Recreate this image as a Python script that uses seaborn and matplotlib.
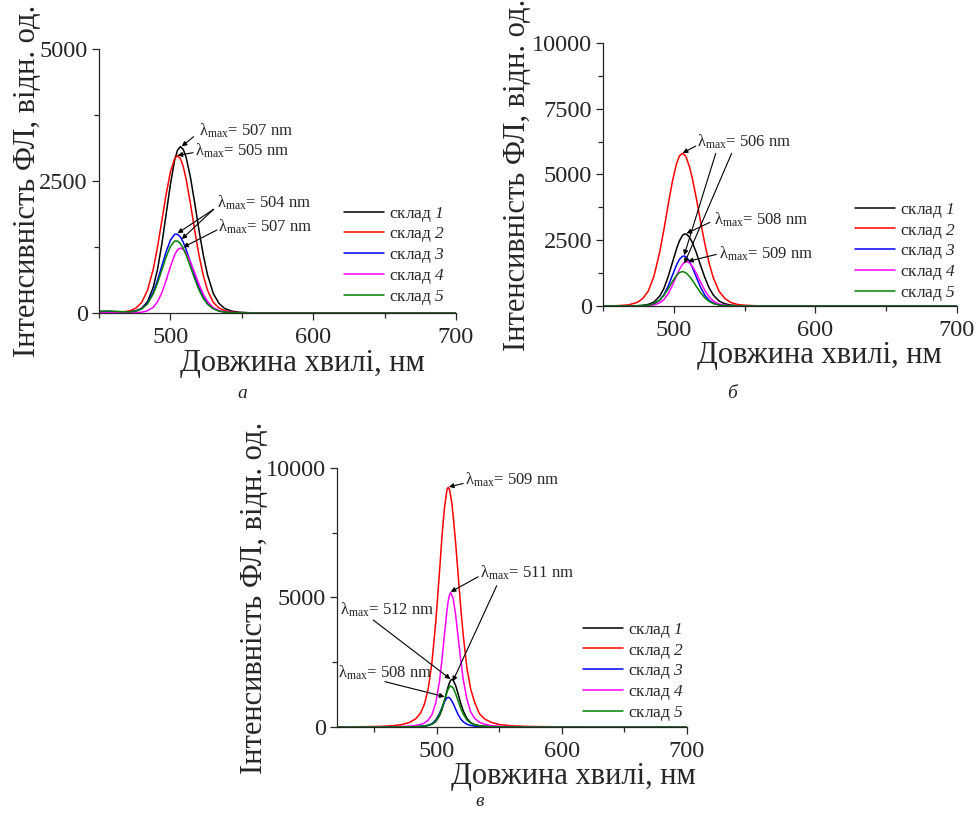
import pandas as pd
import matplotlib
matplotlib.use("Agg")
import matplotlib.pyplot as plt
from matplotlib.ticker import MultipleLocator
import seaborn as sns

# wavelengths (nm) and intensities
wl_a = [450, 458, 466, 472, 476, 480, 484, 488, 491, 494, 497, 500, 503, 505, 507, 509,
        511, 514, 517, 520, 523, 526, 530, 534, 538, 543, 548, 555, 565, 580, 620, 700]
a_1 = [5, 5, 6, 19, 41, 91, 214, 488, 825, 1300, 1865, 2432, 2895, 3084, 3150, 3100,
       2952, 2577, 2092, 1575, 1106, 725, 372, 183, 85, 35, 15, 5, 2, 0, 0, 0]
a_2 = [3, 4, 15, 45, 95, 203, 432, 828, 1249, 1743, 2241, 2667, 2926, 2980, 2926, 2777,
       2539, 2080, 1573, 1100, 715, 432, 203, 95, 45, 18, 7, 2, 0, 0, 0, 0]
a_3 = [25, 27, 20, 23, 41, 84, 189, 393, 620, 888, 1158, 1378, 1492, 1492, 1440, 1342,
       1206, 963, 710, 482, 306, 182, 87, 39, 18, 8, 3, 1, 0, 0, 0, 0]
a_4 = [3, 3, 3, 3, 6, 16, 42, 107, 212, 381, 615, 876, 1101, 1197, 1230, 1205,
       1138, 972, 760, 546, 359, 219, 102, 46, 21, 7, 3, 1, 0, 0, 0, 0]
a_5 = [35, 37, 25, 22, 37, 77, 173, 359, 566, 811, 1058, 1259, 1363, 1363, 1315, 1226,
       1101, 879, 648, 440, 279, 166, 79, 36, 16, 7, 3, 1, 0, 0, 0, 0]

wl_b = [450, 460, 468, 474, 478, 482, 486, 490, 493, 496, 499, 502, 504, 506, 507, 508, 509,
        511, 513, 516, 519, 522, 525, 528, 532, 536, 540, 545, 550, 558, 570, 590, 640, 700]
b_1 = [3, 4, 6, 11, 25, 60, 151, 370, 666, 1110, 1649, 2184, 2477, 2672, 2724, 2740, 2726,
       2622, 2428, 2014, 1529, 1069, 685, 408, 186, 85, 38, 14, 5, 2, 0, 0, 0, 0]
b_2 = [5, 12, 41, 133, 278, 568, 1137, 2036, 2900, 3845, 4733, 5429, 5707, 5800, 5777, 5719, 5614,
       5301, 4878, 4072, 3184, 2343, 1618, 1056, 557, 290, 139, 58, 29, 9, 3, 0, 0, 0]
b_3 = [2, 2, 2, 4, 11, 29, 78, 215, 426, 749, 1165, 1568, 1775, 1885, 1900, 1887, 1849,
       1700, 1480, 1083, 701, 403, 209, 105, 40, 15, 6, 2, 1, 0, 0, 0, 0, 0]
b_4 = [2, 2, 2, 3, 6, 15, 42, 115, 244, 460, 785, 1156, 1390, 1574, 1634, 1672, 1685,
       1643, 1523, 1238, 901, 583, 342, 182, 72, 29, 12, 4, 2, 0, 0, 0, 0, 0]
b_5 = [3, 3, 2, 5, 13, 34, 89, 224, 405, 653, 929, 1168, 1270, 1305, 1297, 1275, 1240,
       1130, 985, 736, 497, 305, 171, 89, 37, 14, 7, 2, 1, 0, 0, 0, 0, 0]

wl_c = [420, 440, 455, 465, 472, 478, 483, 487, 490, 493, 496, 499, 502, 504, 506, 508, 509,
        510, 511, 512, 513, 515, 517, 519, 521, 524, 527, 530, 534, 538, 543, 550, 560, 575,
        600, 640, 700]
c_1 = [1, 1, 2, 3, 4, 8, 15, 24, 39, 61, 107, 206, 432, 673, 1012, 1389, 1564,
       1702, 1807, 1840, 1809, 1593, 1266, 920, 626, 326, 169, 94, 50, 28, 15, 7, 3, 1,
       0, 0, 0]
c_2 = [5, 10, 23, 51, 93, 176, 315, 546, 888, 1462, 2498, 4024, 5966, 7354, 8464, 9158, 9250,
       9176, 8917, 8603, 8140, 7067, 5846, 4625, 3552, 2266, 1462, 971, 509, 315, 185, 93, 44, 19,
       6, 2, 0]
c_3 = [1, 1, 2, 2, 3, 7, 13, 24, 38, 66, 128, 269, 521, 747, 973, 1124, 1145,
       1126, 1073, 992, 905, 682, 475, 309, 203, 105, 58, 34, 19, 11, 6, 3, 1, 1,
       0, 0, 0]
c_4 = [2, 3, 5, 10, 18, 34, 57, 99, 156, 265, 477, 919, 1754, 2595, 3571, 4495, 4863,
       5091, 5190, 5076, 4956, 4308, 3451, 2595, 1842, 1064, 581, 343, 182, 109, 57, 29, 12, 5,
       2, 0, 0]
c_5 = [1, 1, 2, 2, 4, 8, 14, 24, 40, 62, 114, 229, 482, 719, 1030, 1343, 1462,
       1552, 1580, 1548, 1501, 1280, 999, 727, 506, 269, 149, 84, 44, 27, 14, 7, 3, 1,
       0, 0, 0]

# sample numbers are italic in the original, \mathsf is mapped to the italic serif below
labels = ["склад $\\mathsf{1}$", "склад $\\mathsf{2}$", "склад $\\mathsf{3}$",
          "склад $\\mathsf{4}$", "склад $\\mathsf{5}$"]
colors = ["#000000", "#ff0000", "#0000ff", "#ff00ff", "#008000"]

sns.set_style("ticks")
plt.rcParams["font.family"] = ["Liberation Serif", "DejaVu Serif"]
plt.rcParams["mathtext.fontset"] = "custom"
plt.rcParams["mathtext.rm"] = "Liberation Serif"
plt.rcParams["mathtext.it"] = "Liberation Serif:italic"
plt.rcParams["mathtext.sf"] = "Liberation Serif:italic"

fig = plt.figure(figsize=(9.77, 8.14), dpi=100)

panels = [
    dict(rect=[0.1013, 0.6155, 0.3654, 0.3243], wl=wl_a, ys=[a_1, a_2, a_3, a_4, a_5],
         xlim=(450, 700), ylim=(0, 5000), ystep=2500, xl=0.57, yl=-0.16, leg=(0.686, 0.41)),
    dict(rect=[0.6172, 0.6241, 0.3623, 0.3231], wl=wl_b, ys=[b_1, b_2, b_3, b_4, b_5],
         xlim=(450, 700), ylim=(0, 10000), ystep=2500, xl=0.61, yl=-0.2, leg=(0.712, 0.40)),
    dict(rect=[0.3449, 0.1069, 0.3582, 0.3182], wl=wl_c, ys=[c_1, c_2, c_3, c_4, c_5],
         xlim=(420, 700), ylim=(0, 10000), ystep=5000, xl=0.675, yl=-0.195, leg=(0.703, 0.41)),
]

axes = []
for p in panels:
    ax = fig.add_axes(p["rect"])
    rows = []
    for lab, vals in zip(labels, p["ys"]):
        rows.append(pd.DataFrame({"wl": p["wl"], "I": vals, "series": lab}))
    df = pd.concat(rows, ignore_index=True)
    for lab, col in zip(labels, colors):
        sns.lineplot(data=df[df["series"] == lab], x="wl", y="I", color=col, lw=1.1,
                     label=lab, ax=ax)
    ax.set_xlim(*p["xlim"])
    ax.set_ylim(*p["ylim"])
    ax.xaxis.set_major_locator(MultipleLocator(100))
    ax.xaxis.set_minor_locator(MultipleLocator(50))
    ax.yaxis.set_major_locator(MultipleLocator(p["ystep"]))
    ax.yaxis.set_minor_locator(MultipleLocator(p["ystep"] / 2))
    ax.tick_params(which="major", direction="out", length=5, width=0.9, labelsize=17.5, pad=3)
    ax.tick_params(axis="x", which="major", pad=5)
    ax.tick_params(which="minor", direction="out", length=3.5, width=0.9)
    sns.despine(ax=ax)
    for s in ["left", "bottom"]:
        ax.spines[s].set_linewidth(0.9)
    ax.set_xlabel("Довжина хвилі, нм", fontsize=22)
    ax.set_ylabel("Інтенсивність ФЛ, відн. од.", fontsize=22)
    ax.xaxis.set_label_coords(p["xl"], -0.135)
    ax.yaxis.set_label_coords(p["yl"], 0.5)
    ax.legend(loc="upper left", bbox_to_anchor=p["leg"], frameon=False, fontsize=12.5,
              handlelength=2.3, handletextpad=0.3, labelspacing=0.1, borderpad=0,
              borderaxespad=0)
    axes.append(ax)

arrow = dict(arrowstyle="-|>", color="black", lw=0.8, mutation_scale=7,
             shrinkA=0, shrinkB=0)


def note(ax, text, pos, arrows):
    ax.text(pos[0], pos[1], text, fontsize=12, ha="left", va="center")
    for tail, tip in arrows:
        ax.annotate("", xy=tip, xytext=tail, arrowprops=arrow)


lm = "λ$_{\\rm max}$= "
ax_a, ax_b, ax_c = axes
note(ax_a, lm + "507 nm", (520, 3447), [((516.3, 3340), (508.0, 3155))])
note(ax_a, lm + "505 nm", (517.5, 3068), [((515.9, 3036), (505.0, 2985))])
note(ax_a, lm + "504 nm", (533, 2083), [((530.3, 1964), (505.0, 1510)),
                                        ((530.3, 1964), (508.0, 1400))])
note(ax_a, lm + "507 nm", (533.6, 1630), [((532.6, 1572), (509.0, 1244))])

note(ax_b, lm + "506 nm", (516.7, 6243), [((515.5, 6080), (506.3, 5815))])
ax_b.annotate("", xy=(507.3, 1930), xytext=(529.6, 5800), arrowprops=arrow)
ax_b.annotate("", xy=(507.5, 1620), xytext=(540.8, 5800), arrowprops=arrow)
note(ax_b, lm + "508 nm", (528.4, 3268), [((525.5, 3180), (509.0, 2760))])
note(ax_b, lm + "509 nm", (532, 2003), [((530.0, 1960), (510.0, 1695))])

note(ax_c, lm + "509 nm", (522.4, 9530), [((521, 9400), (509.5, 9270))])
note(ax_c, lm + "511 nm", (534.4, 5970), [((533, 5800), (511.0, 5215))])
ax_c.annotate("", xy=(512.6, 1760), xytext=(547.8, 5454), arrowprops=arrow)
note(ax_c, lm + "512 nm", (422.4, 4516), [((449, 4130), (510.8, 1850))])
note(ax_c, lm + "508 nm", (421, 2073), [((458.4, 1749), (506.0, 1170))])

for txt, x, y in [("а", 242, 393), ("б", 732, 393), ("в", 480, 801)]:
    fig.text(x / 977, 1 - y / 814, txt, fontsize=14, style="italic", ha="center", va="center")

fig.savefig("out.png", dpi=100, facecolor="white")
